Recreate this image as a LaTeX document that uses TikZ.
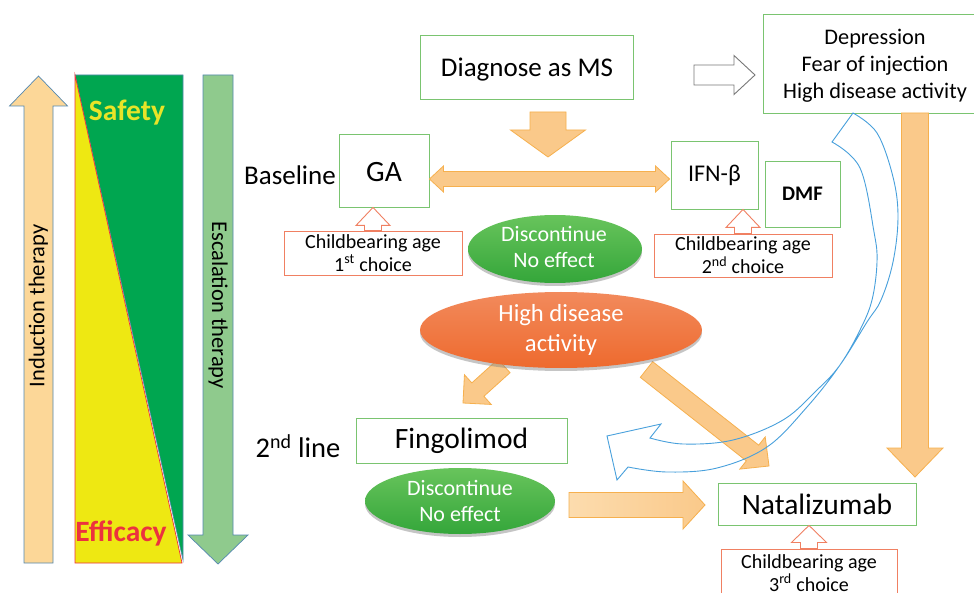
\documentclass[tikz,border=0pt]{standalone}
\usepackage{fontspec}
\setmainfont{Carlito}
\usetikzlibrary{calc,shapes.geometric,shadows}

\definecolor{boxgreen}{RGB}{122,196,112}
\definecolor{cbred}{RGB}{240,128,98}
\definecolor{arrfill}{RGB}{250,201,138}
\definecolor{arrlight}{RGB}{252,220,174}
\definecolor{arrline}{RGB}{246,176,78}
\definecolor{curveblue}{RGB}{72,160,220}
\definecolor{safegreen}{RGB}{0,166,80}
\definecolor{effyellow}{RGB}{238,232,18}
\definecolor{safetxt}{RGB}{232,228,40}
\definecolor{efftxt}{RGB}{236,50,62}
\definecolor{indfill}{RGB}{252,215,152}
\definecolor{escfill}{RGB}{143,202,141}
\definecolor{edgeblue}{RGB}{84,136,176}
\definecolor{ellgreenT}{RGB}{104,196,92}
\definecolor{ellgreenB}{RGB}{52,166,58}
\definecolor{ellorT}{RGB}{242,138,92}
\definecolor{ellorB}{RGB}{238,106,46}
\definecolor{hollowgray}{RGB}{120,120,120}

% block arrow from #2 to #3: shaft half width #4, head half width #5, head length #6
\newcommand\fatarrow[6][]{%
  \coordinate (fa-s) at (#2);
  \coordinate (fa-e) at (#3);
  \coordinate (fa-b) at ($(fa-e)!#6!(fa-s)$);
  \draw[#1] ($(fa-s)!#4!90:(fa-e)$) -- ($(fa-b)!#4!-90:(fa-s)$)
    -- ($(fa-b)!#5!-90:(fa-s)$) -- (fa-e) -- ($(fa-b)!#5!90:(fa-s)$)
    -- ($(fa-b)!#4!90:(fa-s)$) -- ($(fa-s)!#4!-90:(fa-e)$) -- cycle;}

% block arrow with a head at both ends
\newcommand\dblarrow[6][]{%
  \coordinate (da-s) at (#2);
  \coordinate (da-e) at (#3);
  \coordinate (da-b) at ($(da-e)!#6!(da-s)$);
  \coordinate (da-a) at ($(da-s)!#6!(da-e)$);
  \draw[#1] (da-s) -- ($(da-a)!#5!90:(da-e)$) -- ($(da-a)!#4!90:(da-e)$)
    -- ($(da-b)!#4!-90:(da-s)$) -- ($(da-b)!#5!-90:(da-s)$) -- (da-e)
    -- ($(da-b)!#5!90:(da-s)$) -- ($(da-b)!#4!90:(da-s)$)
    -- ($(da-a)!#4!-90:(da-e)$) -- ($(da-a)!#5!-90:(da-e)$) -- cycle;}

\tikzset{
  gbox/.style={draw=boxgreen, line width=0.9pt, rectangle, inner sep=0pt, fill=white},
  cbbox/.style={draw=cbred, line width=0.9pt, rectangle, inner sep=0pt, fill=white,
    align=center, font=\fontsize{20}{23}\selectfont},
  bigtxt/.style={font=\fontsize{29.5}{34}\selectfont},
  orarrow/.style={fill=arrfill, draw=arrline, line width=0.8pt, line join=miter},
  hollowcb/.style={fill=white, draw=cbred, line width=0.9pt, line join=miter},
  blob/.style={ellipse, inner sep=0pt, draw=none,
    drop shadow={shadow xshift=0pt, shadow yshift=-3pt, opacity=0.45}},
  greenblob/.style={blob, top color=ellgreenT, bottom color=ellgreenB},
  orangeblob/.style={blob, top color=ellorT, bottom color=ellorB},
  blobtxt/.style={text=white, align=center, inner sep=0pt},
  sidetxt/.style={font=\fontsize{22.5}{26}\selectfont, inner sep=0pt},
  bluecurve/.style={draw=curveblue, line width=0.9pt, line join=miter}
}

\begin{document}
\begin{tikzpicture}[x=1pt,y=-1pt]
\useasboundingbox (0,0) rectangle (974,593);
\fill[white] (0,0) rectangle (974,593);

% ---- safety / efficacy bar with the two therapy arrows
\fatarrow[fill=indfill, draw=edgeblue, line width=0.7pt]{38.5,563}{38.5,76}{14.5pt}{29pt}{30pt}
\node[sidetxt, rotate=90] (induction) at (38.5,306) {Induction therapy};

\filldraw[fill=safegreen, draw=edgeblue, line width=0.6pt] (75,75) -- (183,75) -- (183,560) -- cycle;
\filldraw[fill=effyellow, draw=efftxt, line width=0.7pt] (75,75) -- (182,563) -- (75,563) -- cycle;
\node[font=\bfseries\fontsize{29.5}{34}\selectfont, text=safetxt, inner sep=0pt] (safety) at (127,113) {Safety};
\node[font=\bfseries\fontsize{29.5}{34}\selectfont, text=efftxt, inner sep=0pt] (efficacy) at (121,533) {Efficacy};

\fatarrow[fill=escfill, draw=edgeblue, line width=0.7pt]{218,75}{218,564}{15pt}{30pt}{29pt}
\node[sidetxt, rotate=-90] (escalation) at (218,305) {Escalation therapy};

% ---- boxes
\node[gbox, minimum width=213pt, minimum height=64pt] (diag) at (526.5,67) {};
\node[font=\fontsize{27}{32}\selectfont, inner sep=0pt] (diagtxt) at (527,70) {Diagnose as MS};
\node[gbox, minimum width=224pt, minimum height=99pt] (dep) at (875,63.5) {};
\node[align=center, inner sep=0pt, font=\fontsize{22.3}{27}\selectfont] (deptxt) at (875,66)
      {Depression\\Fear of injection\\High disease activity};
\node[gbox, minimum width=90pt, minimum height=73pt] (ga) at (384,170.5) {};
\node[bigtxt, inner sep=0pt] (gatxt) at (384,172) {GA};
\node[font=\fontsize{27}{32}\selectfont, inner sep=0pt] (base) at (290,175) {Baseline};
\node[gbox, minimum width=87pt, minimum height=68pt, font=\fontsize{24}{28}\selectfont] (ifn) at (714.5,175) {IFN-β};
\node[gbox, minimum width=75pt, minimum height=66pt, font=\bfseries\fontsize{20.7}{24}\selectfont] (dmf) at (802.5,194) {DMF};
\node[cbbox, minimum width=178pt, minimum height=44pt] (cb1) at (373,253) {Childbearing age\\1\textsuperscript{st} choice};
\node[cbbox, minimum width=178pt, minimum height=43pt] (cb2) at (743,255.5) {Childbearing age\\2\textsuperscript{nd} choice};
\node[gbox, minimum width=211pt, minimum height=45pt, bigtxt] (fin) at (461.5,440.5) {Fingolimod};
\node[font=\fontsize{28.5}{34}\selectfont, inner sep=0pt] (second) at (298,446) {2\textsuperscript{nd} line};
\node[gbox, minimum width=198pt, minimum height=42pt, bigtxt] (nat) at (817,504) {Natalizumab};
\node[cbbox, minimum width=176pt, minimum height=48pt] (cb3) at (809,573) {Childbearing age\\3\textsuperscript{rd} choice};

% ---- block arrows
\fatarrow[orarrow]{548,112}{548,157}{18pt}{37.5pt}{27pt}
\dblarrow[orarrow]{$(ga.east)+(0,8.5)$}{$(ifn.west)+(-1,4)$}{7.5pt}{13pt}{14pt}
\fatarrow[fill=white, draw=hollowgray, line width=0.9pt, line join=miter]{694,75}{755,75}{10pt}{19.5pt}{21pt}
\fatarrow[hollowcb]{cb1.north}{cb1.north |- ga.south}{8.5pt}{17pt}{18pt}
\fatarrow[hollowcb]{cb2.north}{cb2.north |- ifn.south}{8.5pt}{17pt}{18pt}
\fatarrow[hollowcb]{cb3.north}{cb3.north |- nat.south}{8.5pt}{17.5pt}{17pt}
\fatarrow[orarrow]{915,113}{915,477}{13.5pt}{28pt}{29pt}
\fatarrow[orarrow]{504,366}{463,403}{9pt}{20pt}{20pt}
\fatarrow[orarrow]{646.5,369.5}{769,466}{10pt}{20.5pt}{21pt}
\fatarrow[orarrow, left color=arrlight, right color=arrfill]{569,505}{705,505}{12.5pt}{24pt}{22pt}

% ---- ellipses
\node[greenblob, minimum width=174pt, minimum height=68pt] (dc1) at (555,249) {};
\node[blobtxt, font=\fontsize{22}{26}\selectfont] (dc1t) at (554,247) {Discontinue\\No effect};
\node[orangeblob, minimum width=282pt, minimum height=76pt] (hda) at (561,330) {};
\node[blobtxt, font=\fontsize{24.6}{30}\selectfont] (hdat) at (hda) {High disease\\activity};
\node[greenblob, minimum width=190pt, minimum height=66pt] (dc2) at (460,501) {};
\node[blobtxt, font=\fontsize{22}{26}\selectfont] (dc2t) at (dc2) {Discontinue\\No effect};

% ---- twisted curved hollow arrow back to the second line
\draw[bluecurve]
  plot[smooth, tension=0.6] coordinates {(853,113) (877,133) (893,177) (898,217) (893,262)
    (881,300) (867,322) (840,365) (817,390) (783,420) (733,440) (683,444) (650,438)}
  -- (661,424) -- (607,436) -- (617,480)
  -- plot[smooth, tension=0.6] coordinates {(628,467) (667,472) (717,468) (767,447)
    (807,407) (840,365) (860,330) (872,300) (877,262) (874,232) (860,168) (832,142)}
  -- cycle;
\end{tikzpicture}
\end{document}
